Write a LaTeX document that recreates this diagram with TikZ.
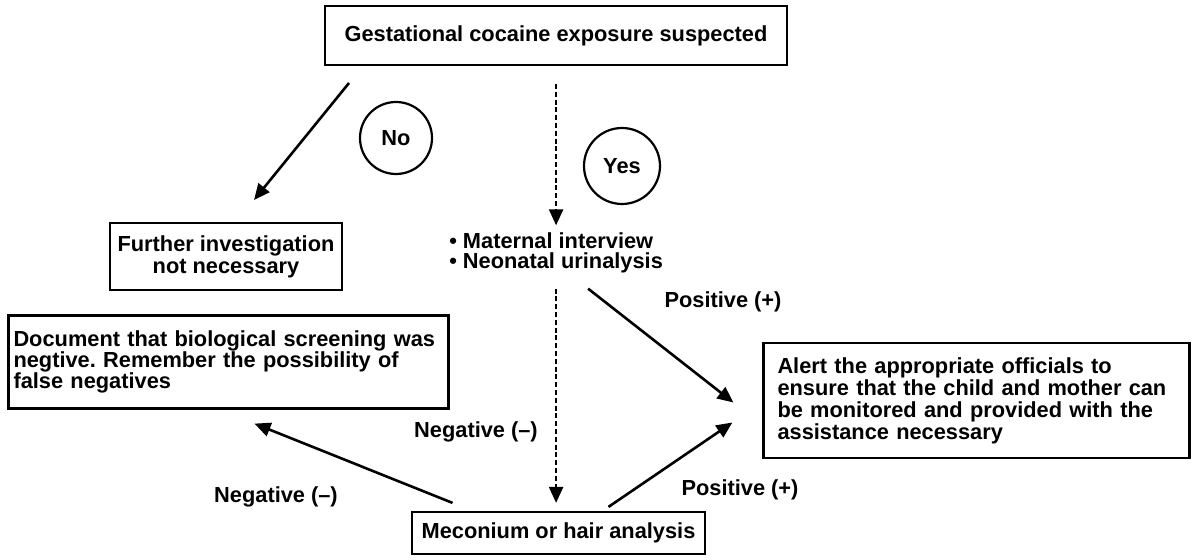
\documentclass[tikz,border=0pt]{standalone}
\usepackage{fontspec}
\setmainfont{Liberation Sans}
\usetikzlibrary{arrows.meta}

\begin{document}
\begin{tikzpicture}[x=0.5pt,y=-0.5pt,>={Triangle[length=8pt,width=7pt]},line width=1.3pt,
  font=\fontsize{10.9}{11}\selectfont\bfseries,
  box/.style={draw,line width=1.1pt,inner sep=2.5pt},
  answer/.style={draw,circle,line width=1.1pt,inner sep=0pt},
  dashline/.style={dash pattern=on 2.5pt off 1.4pt,line width=1.2pt}]
\useasboundingbox (0,0) rectangle (1200,560);
\node[box,minimum width=231pt,minimum height=29.5pt] (top) at (556, 35.5) {Gestational cocaine exposure suspected};
\node[answer,minimum size=36pt] (no) at (396, 138) {No};
\node[answer,minimum size=38pt] (yes) at (622, 166) {Yes};
\node[box,minimum width=116pt,minimum height=33.5pt,align=center] (further) at (226, 256.5) {Further investigation\\not necessary};
\node[anchor=west,align=left,inner sep=0pt,font=\fontsize{10.9}{10.2}\selectfont\bfseries] (tests) at (448, 253) {\textbullet\ Maternal interview\\\textbullet\ Neonatal urinalysis};
\node[box,minimum height=46.5pt,align=left,text width=215pt,font=\fontsize{10.9}{10.5}\selectfont\bfseries] (doc) at (228.5, 362) {Document that biological screening was\\negtive.\ Remember the possibility of\\false negatives};
\node[box,inner xsep=7pt,minimum height=57.5pt,align=left,text width=199pt] (alert) at (976.5, 400.5) {Alert the appropriate officials to\\ensure that the child and mother can\\be monitored and provided with the\\assistance necessary};
\node[box,minimum width=146.5pt,minimum height=21pt] (meco) at (558.5, 533) {Meconium or hair analysis};
\node[] (pos1) at (723, 302) {Positive (+)};
\node[] (negmid) at (476, 432) {Negative (--)};
\node[] (negleft) at (276, 497) {Negative (--)};
\node[] (pos2) at (740, 490) {Positive (+)};
\coordinate (notail) at (349, 83);
\coordinate (nohead) at (254, 200);
\path[->] (notail) edge (nohead);
\path[->,dashline] ([yshift=-9pt]top.south -| tests.north) edge ([yshift=3pt]tests.north);
\path[->,dashline] ([yshift=-7pt]tests.south) edge ([yshift=4pt]tests.south |- meco.north);
\path[->] ([xshift=16pt,yshift=-7pt]tests.south) edge ([xshift=-14.5pt,yshift=-1pt]alert.west);
\path[->] ([xshift=25pt,yshift=2pt]meco.north) edge ([xshift=-15pt,yshift=-11pt]alert.west);
\path[->] ([xshift=-53pt,yshift=4pt]meco.north) edge ([xshift=13pt,yshift=-7pt]doc.south);
\end{tikzpicture}
\end{document}
